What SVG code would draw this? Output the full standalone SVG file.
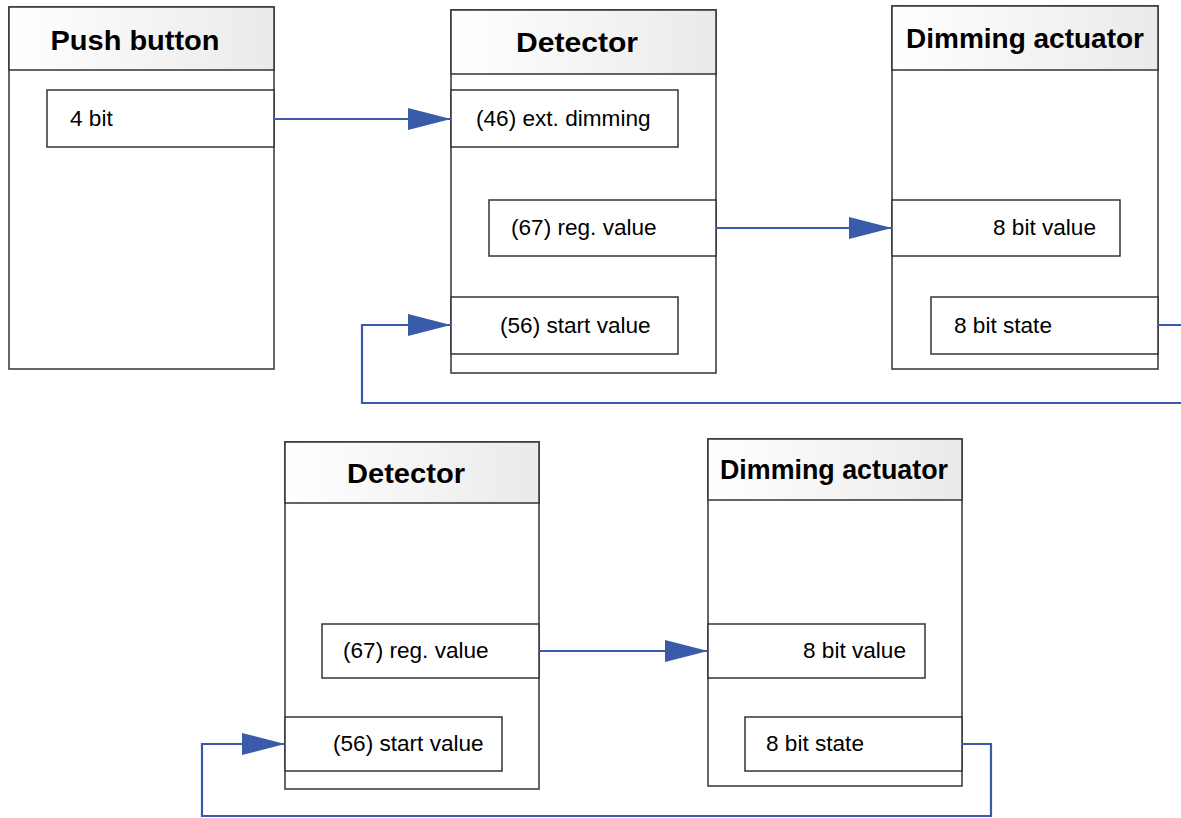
<svg xmlns="http://www.w3.org/2000/svg" width="1181" height="818" viewBox="0 0 1181 818">
<style>
.box{fill:#fff;stroke:#333;stroke-width:1.5}
.hdr{fill:url(#hg);stroke:#333;stroke-width:1.5}
.title{font-family:"Liberation Sans",Arial,sans-serif;font-weight:bold;font-size:28px;fill:#000;text-anchor:middle}
.lbl{font-family:"Liberation Sans",Arial,sans-serif;font-size:22.6px;fill:#000}
.conn{fill:none;stroke:#3a5ba9;stroke-width:2.2}
</style>
<defs>
<linearGradient id="hg" x1="0" y1="0" x2="1" y2="0">
<stop offset="0" stop-color="#ffffff"/>
<stop offset="1" stop-color="#eaeaea"/>
</linearGradient>
<marker id="arr" markerUnits="userSpaceOnUse" markerWidth="44" markerHeight="22" refX="43" refY="11" orient="auto">
<path d="M0,0 L43,11 L0,22 z" fill="#3a5ba9"/>
</marker>
</defs>

<g id="pushbutton">
<rect class="box" x="9" y="7" width="265" height="362"/>
<rect class="hdr" x="9" y="7" width="265" height="63"/>
<text class="title" x="135" y="50" textLength="169" lengthAdjust="spacingAndGlyphs">Push button</text>
<rect class="box" x="47" y="90" width="227" height="57"/>
<text class="lbl" x="70" y="126">4 bit</text>
</g>

<g id="detector1">
<rect class="box" x="451" y="10" width="265" height="363"/>
<rect class="hdr" x="451" y="10" width="265" height="64"/>
<text class="title" x="577" y="52" textLength="122" lengthAdjust="spacingAndGlyphs">Detector</text>
<rect class="box" x="451" y="90" width="227" height="57"/>
<text class="lbl" x="476" y="126">(46) ext. dimming</text>
<rect class="box" x="489" y="200" width="227" height="56"/>
<text class="lbl" x="511" y="235">(67) reg. value</text>
<rect class="box" x="451" y="297" width="227" height="57"/>
<text class="lbl" x="500" y="333">(56) start value</text>
</g>

<g id="actuator1">
<rect class="box" x="892" y="6" width="266" height="363"/>
<rect class="hdr" x="892" y="6" width="266" height="64"/>
<text class="title" x="1025" y="48" textLength="238" lengthAdjust="spacingAndGlyphs">Dimming actuator</text>
<rect class="box" x="892" y="200" width="228" height="56"/>
<text class="lbl" x="993" y="235">8 bit value</text>
<rect class="box" x="931" y="297" width="227" height="57"/>
<text class="lbl" x="954" y="333">8 bit state</text>
</g>

<g id="detector2">
<rect class="box" x="285" y="442" width="254" height="347"/>
<rect class="hdr" x="285" y="442" width="254" height="61"/>
<text class="title" x="406" y="483" textLength="118" lengthAdjust="spacingAndGlyphs">Detector</text>
<rect class="box" x="322" y="624" width="217" height="54"/>
<text class="lbl" x="343" y="658">(67) reg. value</text>
<rect class="box" x="285" y="717" width="217" height="54"/>
<text class="lbl" x="333" y="751">(56) start value</text>
</g>

<g id="actuator2">
<rect class="box" x="708" y="439" width="254" height="347"/>
<rect class="hdr" x="708" y="439" width="254" height="61"/>
<text class="title" x="834" y="479" textLength="228" lengthAdjust="spacingAndGlyphs">Dimming actuator</text>
<rect class="box" x="708" y="624" width="217" height="54"/>
<text class="lbl" x="803" y="658">8 bit value</text>
<rect class="box" x="745" y="717" width="217" height="54"/>
<text class="lbl" x="766" y="751">8 bit state</text>
</g>

<g id="connectors">
<path class="conn" d="M274,119 H451" marker-end="url(#arr)"/>
<path class="conn" d="M716,228 H892" marker-end="url(#arr)"/>
<path class="conn" d="M1158,325 H1195 V403 H362 V325 H451" marker-end="url(#arr)"/>
<path class="conn" d="M539,651 H708" marker-end="url(#arr)"/>
<path class="conn" d="M962,744 H991 V816 H202 V744 H285" marker-end="url(#arr)"/>
</g>
</svg>
